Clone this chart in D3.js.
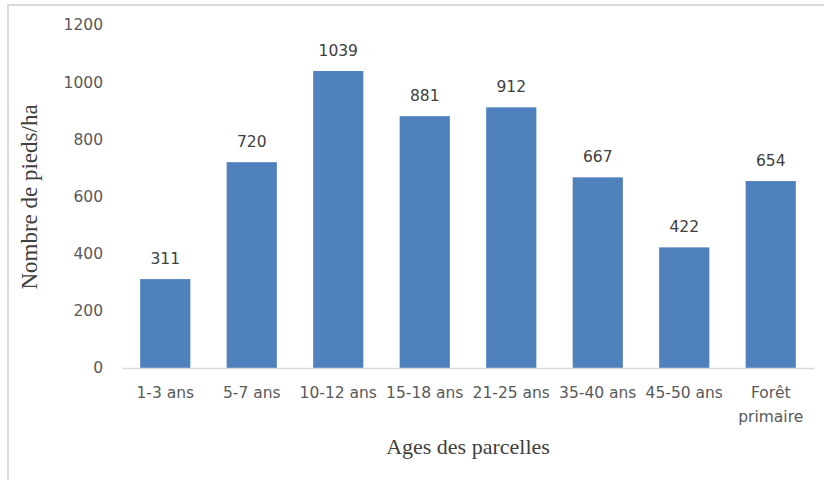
<!DOCTYPE html>
<html><head><meta charset="utf-8">
<script src="https://cdn.jsdelivr.net/npm/d3@7"></script>
<style>body{margin:0;background:#fff}</style>
</head><body>
<script>
const categories = ["1-3 ans","5-7 ans","10-12 ans","15-18 ans","21-25 ans","35-40 ans","45-50 ans","Forêt primaire"];
const values = [311,720,1039,881,912,667,422,654];
const yTicks = [0,200,400,600,800,1000,1200];

(function(){
const W=824,H=480;
const svg=d3.select("body").append("svg").attr("width",W).attr("height",H);
svg.append("rect").attr("x",0).attr("y",0).attr("width",W).attr("height",H).attr("fill","#fff");
// border
svg.append("path").attr("d","M8,"+H+"V5H"+W).attr("fill","none").attr("stroke","#d9d9d9").attr("stroke-width",2);

const mLeft=122,mRight=814,mTop=25,mBottom=368;
const x=d3.scaleBand().domain(categories).range([mLeft,mRight]).paddingInner(0.42).paddingOuter(0.21);
const y=d3.scaleLinear().domain([0,1200]).range([mBottom,mTop]);

const tickFont="'DejaVu Sans', sans-serif";
const fs=15.5;
// y axis labels
const ya=svg.append("g").attr("transform",`translate(${mLeft},0)`)
  .call(d3.axisLeft(y).tickValues(yTicks).tickFormat(d3.format("d")).tickSize(0).tickPadding(19));
ya.select(".domain").remove();
ya.selectAll("text").attr("font-family",tickFont).attr("font-size",fs).attr("fill","#595959");

// bars
svg.selectAll("rect.bar").data(values).enter().append("rect").attr("class","bar")
  .attr("x",(d,i)=>x(categories[i])).attr("width",x.bandwidth())
  .attr("y",d=>y(d)).attr("height",d=>y(0)-y(d)).attr("fill","#4F81BD");

// baseline axis
const xa=svg.append("g").attr("transform",`translate(0,${mBottom})`)
  .call(d3.axisBottom(x).tickSize(0).tickPadding(19));
xa.select(".domain").attr("stroke","#d9d9d9").attr("stroke-width",1.5);
xa.selectAll("text").attr("font-family",tickFont).attr("font-size",fs).attr("fill","#595959")
  .each(function(d){
    const t=d3.select(this);
    if(d==="Forêt primaire"){
      t.text(null);
      t.append("tspan").attr("x",0).attr("dy","0.71em").text("Forêt");
      t.append("tspan").attr("x",0).attr("dy","1.55em").text("primaire");
    }
  });

// data labels
svg.selectAll("text.lbl").data(values).enter().append("text").attr("class","lbl")
  .attr("x",(d,i)=>x(categories[i])+x.bandwidth()/2).attr("y",d=>y(d)-15)
  .attr("text-anchor","middle").attr("font-family",tickFont).attr("font-size",fs).attr("fill","#404040")
  .text(d=>d);

// axis titles
svg.append("text").attr("x",468).attr("y",454).attr("text-anchor","middle")
  .attr("font-family","'Liberation Serif', serif").attr("font-size",22).attr("fill","#404040")
  .text("Ages des parcelles");
svg.append("text").attr("transform","translate(37,197) rotate(-90)").attr("text-anchor","middle")
  .attr("font-family","'Liberation Serif', serif").attr("font-size",23).attr("fill","#404040")
  .text("Nombre de pieds/ha");
})();
</script>
</body></html>
